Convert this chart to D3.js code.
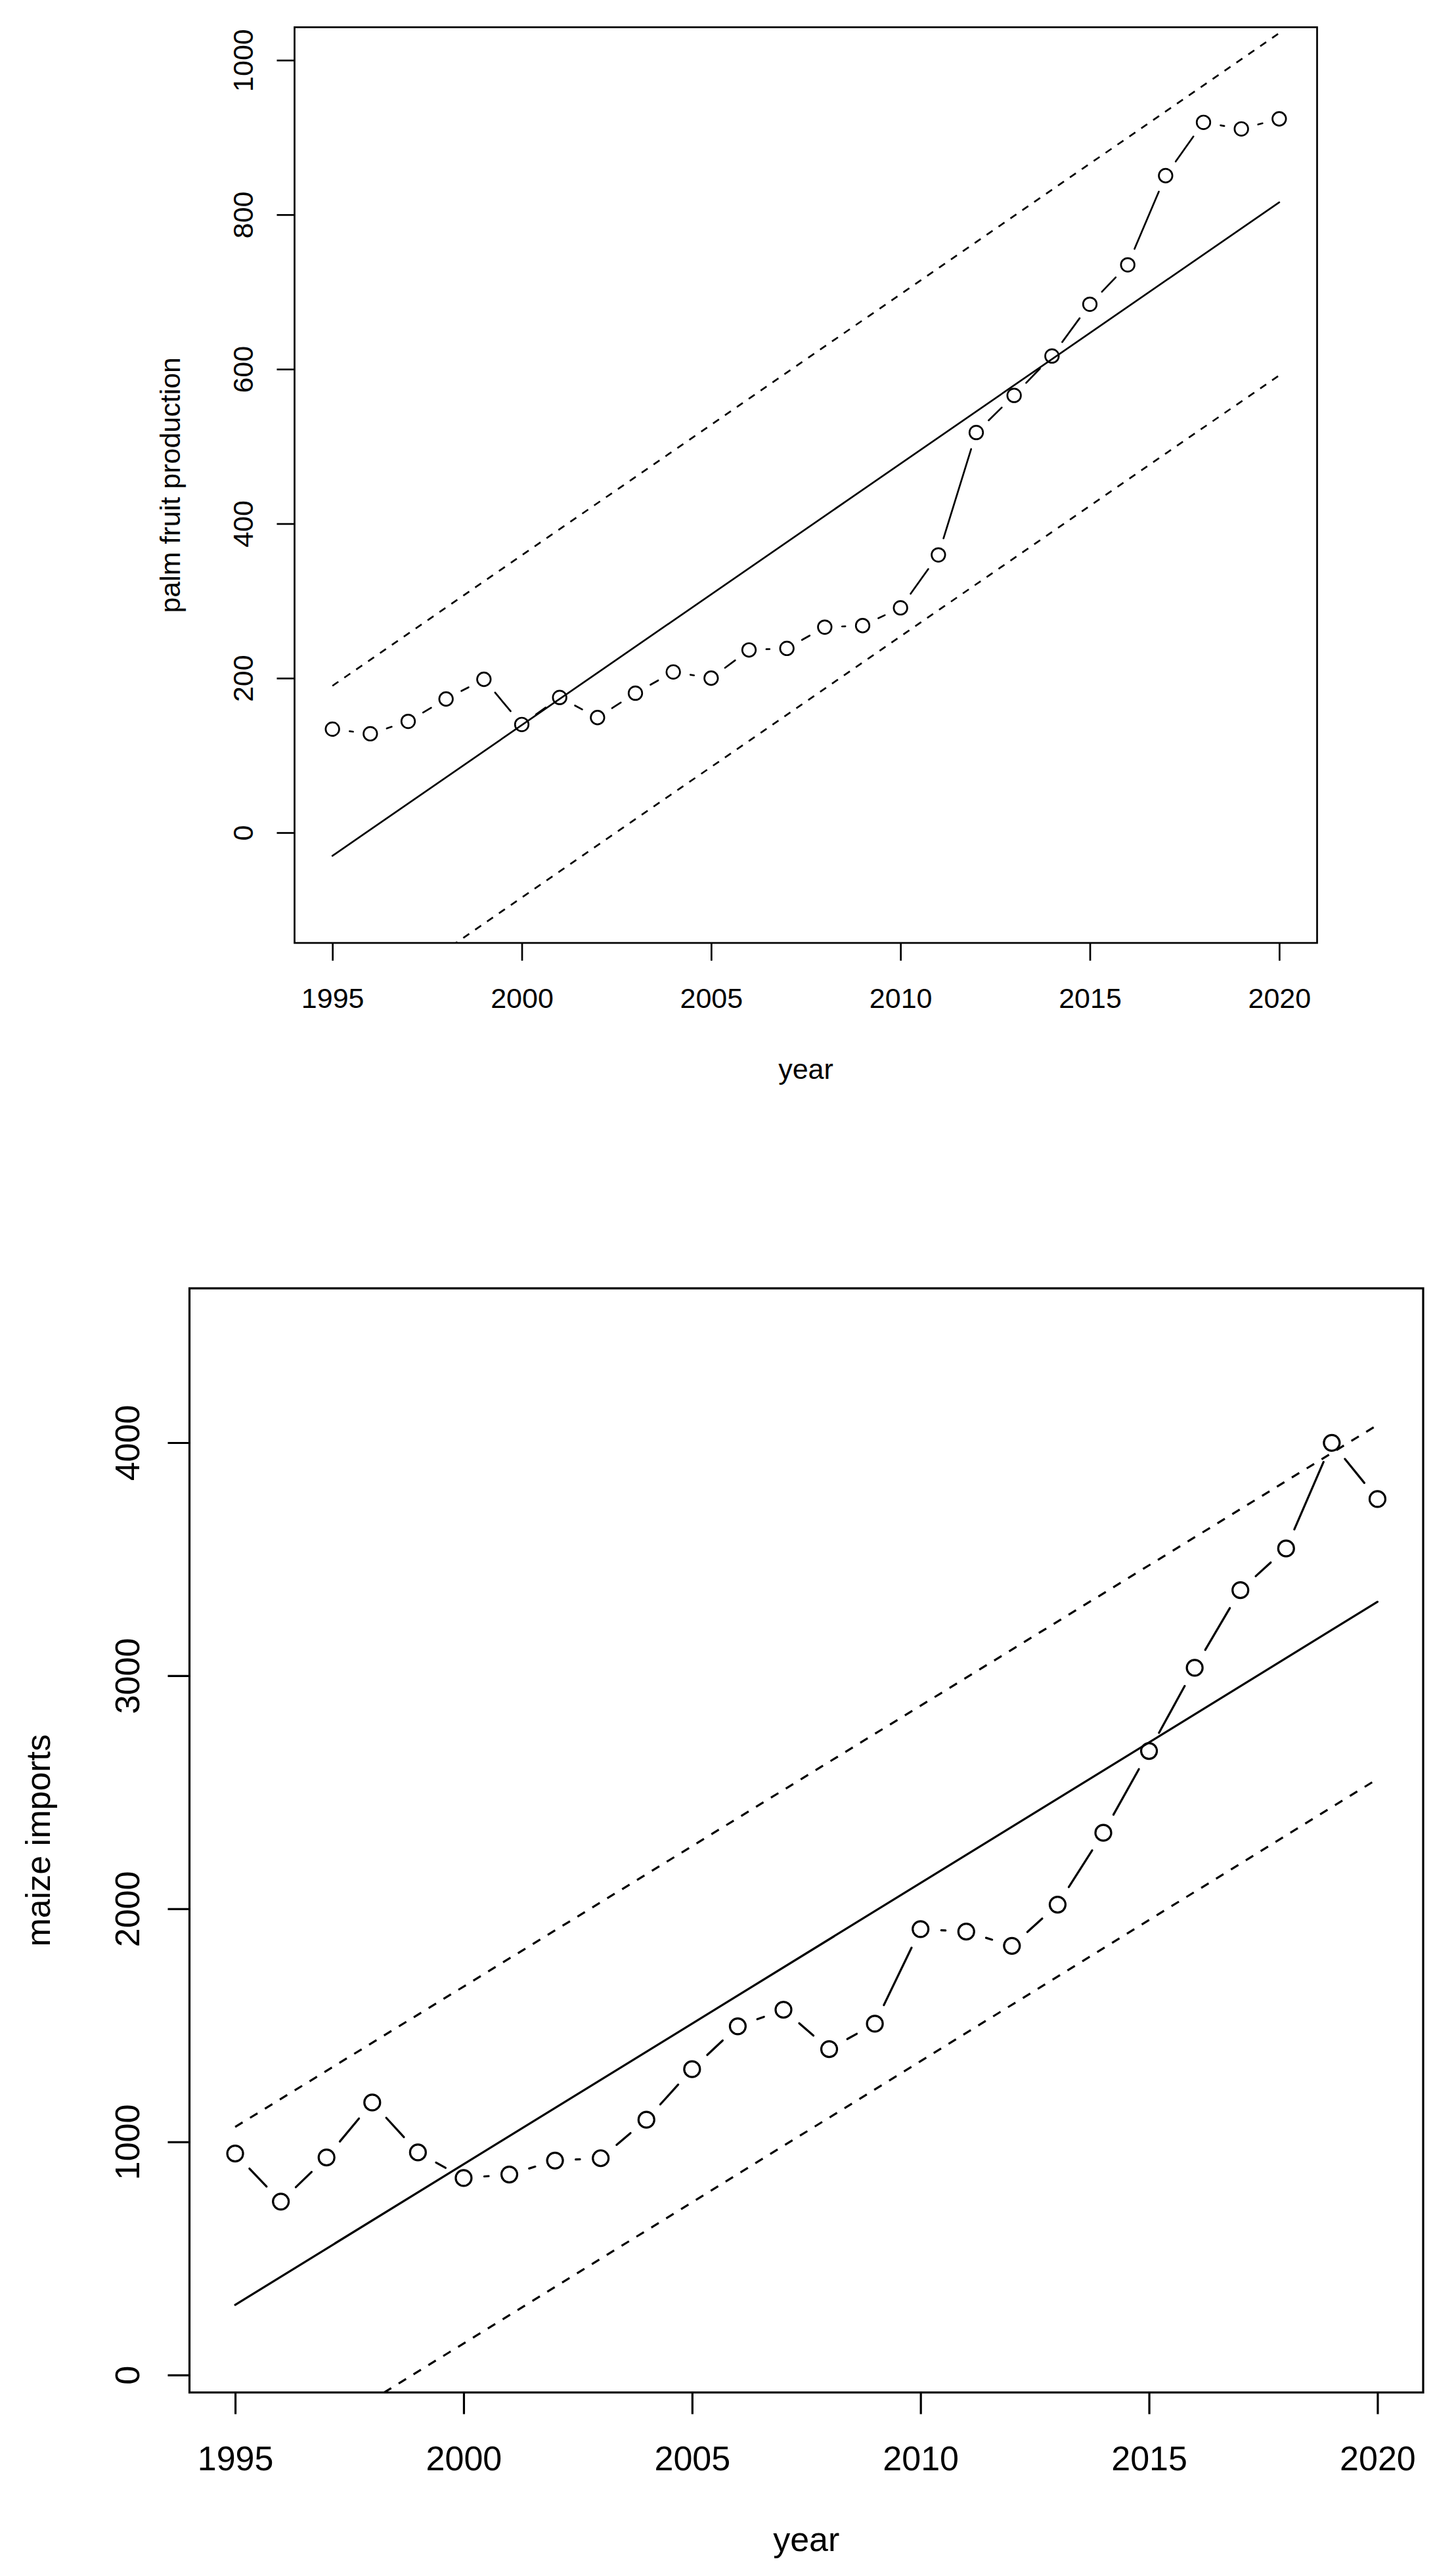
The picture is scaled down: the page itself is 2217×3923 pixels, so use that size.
<!DOCTYPE html>
<html><head><meta charset="utf-8">
<script src="https://cdn.jsdelivr.net/npm/d3@7"></script>
<style>html,body{margin:0;padding:0;background:#fff;} svg{display:block;}</style>
</head><body>
<script>
// ---- data ----
const years = [1995,1996,1997,1998,1999,2000,2001,2002,2003,2004,2005,2006,2007,2008,2009,2010,2011,2012,2013,2014,2015,2016,2017,2018,2019,2020];
const palmFruit = [134,128,144,173,198.5,140,175,149,180.5,208,200,236.5,238.5,266,268,291,359.5,518,566,617,684,735,850.5,919.5,911,924];
const maizeImports = [950,744,933,1169,955,845,860,920,930,1095,1312,1496,1567,1398,1507,1913,1902,1841,2018,2326,2677,3034,3367,3546,3999,3758];
const fitYears = [1995, 2020];
const palmFit = [-30, 816];
const palmUpper = [190, 1035];
const palmLower = [-253, 592];
const maizeFit = [301, 3317];
const maizeUpper = [1064, 4076];
const maizeLower = [-470, 2557];
const xTicks = [1995, 2000, 2005, 2010, 2015, 2020];
const palmYTicks = [0, 200, 400, 600, 800, 1000];
const maizeYTicks = [0, 1000, 2000, 3000, 4000];
const xLimits = [1994, 2021];
const palmYLimits = [-142.8, 1042.6];
const maizeYLimits = [-75, 4662];

const W = 2217, H = 3923;
const svg = d3.select("body").append("svg").attr("width", W).attr("height", H)
  .attr("viewBox", `0 0 ${W} ${H}`);
svg.append("rect").attr("width", W).attr("height", H).attr("fill", "#fff");
const FONT = "'Liberation Sans', Arial, Helvetica, sans-serif";

function panel(cfg) {
  const x = d3.scaleLinear().domain(xLimits).range([cfg.left, cfg.right]);
  const y = d3.scaleLinear().domain(cfg.ylim).range([cfg.bottom, cfg.top]);
  const g = svg.append("g");
  const clipId = "clip" + cfg.id;
  g.append("clipPath").attr("id", clipId).append("rect")
    .attr("x", cfg.left).attr("y", cfg.top)
    .attr("width", cfg.right - cfg.left).attr("height", cfg.bottom - cfg.top);
  const plot = g.append("g").attr("clip-path", `url(#${clipId})`);

  const line = d3.line().x(d => x(d[0])).y(d => y(d[1]));
  // fitted line
  plot.append("path").datum(fitYears.map((t, i) => [t, cfg.fit[i]]))
    .attr("d", line).attr("fill", "none").attr("stroke", "#000")
    .attr("stroke-width", cfg.lw).attr("stroke-linecap", "round");
  // bands
  [cfg.upper, cfg.lower].forEach(b => {
    plot.append("path").datum(fitYears.map((t, i) => [t, b[i]]))
      .attr("d", line).attr("fill", "none").attr("stroke", "#000")
      .attr("stroke-width", cfg.lw).attr("stroke-dasharray", `${cfg.dash},${cfg.dash}`);
  });
  // type "b" segments with gaps
  const pts = years.map((t, i) => [x(t), y(cfg.values[i])]);
  const segs = [];
  for (let i = 0; i < pts.length - 1; i++) {
    const [x1, y1] = pts[i], [x2, y2] = pts[i + 1];
    const dx = x2 - x1, dy = y2 - y1, d = Math.hypot(dx, dy);
    if (d > 2 * cfg.gap) {
      const ux = dx / d, uy = dy / d;
      segs.push([x1 + ux * cfg.gap, y1 + uy * cfg.gap, x2 - ux * cfg.gap, y2 - uy * cfg.gap]);
    }
  }
  plot.selectAll("line.seg").data(segs).join("line").attr("class", "seg")
    .attr("x1", d => d[0]).attr("y1", d => d[1]).attr("x2", d => d[2]).attr("y2", d => d[3])
    .attr("stroke", "#000").attr("stroke-width", cfg.lw).attr("stroke-linecap", "round");
  g.selectAll("circle.pt").data(years.map((t, i) => [t, cfg.values[i]])).join("circle")
    .attr("class", "pt").attr("cx", d => x(d[0])).attr("cy", d => y(d[1])).attr("r", cfg.r)
    .attr("fill", "none").attr("stroke", "#000").attr("stroke-width", cfg.lw);

  // axes
  const xa = g.append("g").attr("transform", `translate(0,${cfg.bottom})`)
    .call(d3.axisBottom(x).tickValues(xTicks).tickFormat(d3.format("d")).tickSize(cfg.tick));
  xa.select(".domain").remove();
  xa.selectAll(".tick line").attr("stroke", "#000").attr("stroke-width", cfg.lw);
  xa.selectAll(".tick text").attr("y", cfg.xTickBase).attr("dy", 0)
    .attr("font-family", FONT).attr("font-size", cfg.font).attr("fill", "#000");
  xa.attr("font-family", null).attr("font-size", null);

  const ya = g.append("g").attr("transform", `translate(${cfg.left},0)`)
    .call(d3.axisLeft(y).tickValues(cfg.yTicks).tickFormat(d3.format("d")).tickSize(cfg.tick));
  ya.select(".domain").remove();
  ya.selectAll(".tick line").attr("stroke", "#000").attr("stroke-width", cfg.lw);
  ya.selectAll(".tick text").attr("x", null).attr("dy", 0)
    .attr("transform", `translate(${-cfg.yTickBase},0) rotate(-90)`)
    .attr("text-anchor", "middle")
    .attr("font-family", FONT).attr("font-size", cfg.font).attr("fill", "#000");
  ya.attr("font-family", null).attr("font-size", null);

  // box
  g.append("rect").attr("x", cfg.left).attr("y", cfg.top)
    .attr("width", cfg.right - cfg.left).attr("height", cfg.bottom - cfg.top)
    .attr("fill", "none").attr("stroke", "#000").attr("stroke-width", cfg.lw);

  // axis titles
  g.append("text").attr("x", (cfg.left + cfg.right) / 2).attr("y", cfg.bottom + cfg.xLabBase)
    .attr("text-anchor", "middle").attr("font-family", FONT).attr("font-size", cfg.font)
    .text(cfg.xlab);
  const cy = (cfg.top + cfg.bottom) / 2;
  g.append("text").attr("transform", `translate(${cfg.left - cfg.yLabBase},${cy}) rotate(-90)`)
    .attr("text-anchor", "middle").attr("font-family", FONT).attr("font-size", cfg.font)
    .text(cfg.ylab);
}

panel({
  id: 1, left: 448.5, right: 2005.5, top: 41.5, bottom: 1436,
  ylim: palmYLimits, yTicks: palmYTicks, values: palmFruit,
  fit: palmFit, upper: palmUpper, lower: palmLower,
  font: 43, tick: 27, lw: 2.7, r: 10.3, gap: 26.4, dash: 11,
  yTickBase: 63.5, xTickBase: 99, xLabBase: 207, yLabBase: 174.5,
  xlab: "year", ylab: "palm fruit production"
});
panel({
  id: 2, left: 288.5, right: 2167, top: 1962, bottom: 3643.5,
  ylim: maizeYLimits, yTicks: maizeYTicks, values: maizeImports,
  fit: maizeFit, upper: maizeUpper, lower: maizeLower,
  font: 52, tick: 33, lw: 3.2, r: 12, gap: 31.6, dash: 13.3,
  yTickBase: 76.5, xTickBase: 118.5, xLabBase: 241.5, yLabBase: 212.5,
  xlab: "year", ylab: "maize imports"
});
</script>
</body></html>
